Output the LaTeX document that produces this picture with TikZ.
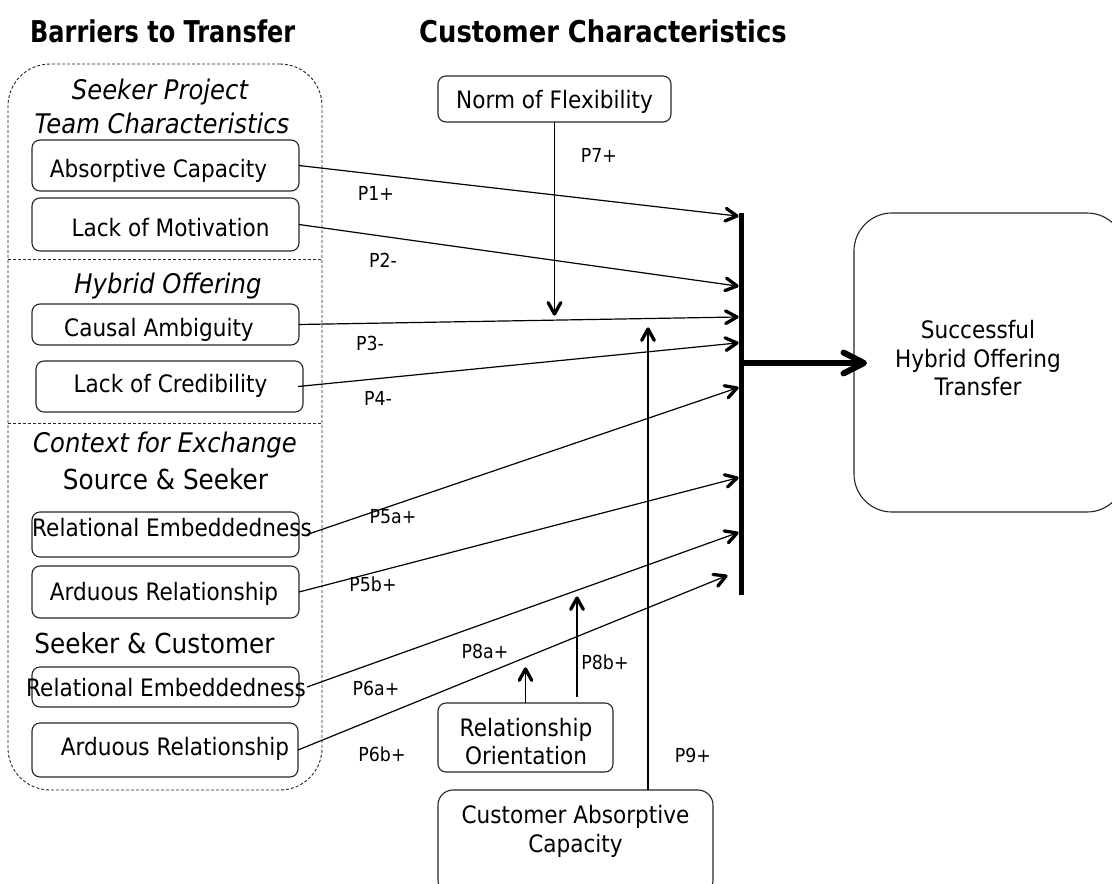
\documentclass[tikz,border=0pt]{standalone}
\usepackage{fontspec}
\setmainfont{DejaVu Sans}[FakeStretch=0.9]
\newfontfamily\headfont{DejaVu Sans}[FakeStretch=0.8]
\newfontfamily\headfontwide{DejaVu Sans}[FakeStretch=0.86]
\usetikzlibrary{calc}

\tikzset{
  frame/.style={draw=black!85, line width=1.1pt, rounded corners=8pt,
    inner sep=0pt, outer sep=0pt},
  dashframe/.style={draw=black!85, line width=0.9pt, dash pattern=on 3pt off 2pt},
  txt/.style={inner sep=0pt, anchor=base, font=\fontsize{24}{28}\selectfont},
  ttl/.style={inner sep=0pt, anchor=base, font=\fontsize{27}{32}\selectfont\itshape},
  sub/.style={inner sep=0pt, anchor=base, font=\fontsize{27.5}{32}\selectfont},
  lab/.style={inner sep=0pt, anchor=base, font=\fontsize{19.3}{23}\selectfont},
  head/.style={inner sep=0pt, anchor=base west,
    font=\headfont\bfseries\fontsize{30}{34}\selectfont},
  link/.style={line width=1.2pt},
  chev/.style={line width=3.3pt, line cap=round, line join=round},
  bigchev/.style={line width=6pt, line cap=round, line join=round},
}
% thin connector from #1 to #2 with a heavy open chevron at #2
\newcommand\connect[2]{%
  \draw[link] (#1) -- (#2);
  \draw[chev] ($(#2)!13pt!29:(#1)$) -- (#2) -- ($(#2)!13pt!-29:(#1)$);}

\begin{document}
\begin{tikzpicture}[x=1pt,y=-1pt]
\useasboundingbox (0,0) rectangle (1112,884);
\fill[white] (0,0) rectangle (1112,884);

% column headings
\node[head] (h1) at (30,42) {Barriers to Transfer};
\node[head, font=\headfontwide\bfseries\fontsize{30}{34}\selectfont] (h2) at (419,42) {Customer Characteristics};

% dashed frame of the barriers with its section dividers
\node[frame, dashframe, rounded corners=42pt, minimum width=314pt, minimum height=726pt] (outer) at (165,427) {};
\coordinate (d1) at (0,259);
\coordinate (d2) at (0,423);
\draw[dashframe] (outer.west |- d1) -- (outer.east |- d1);
\draw[dashframe] (outer.west |- d2) -- (outer.east |- d2);

% section titles
\node[ttl] (t1) at (160,99) {Seeker Project};
\node[ttl] (t2) at (162,133) {Team Characteristics};
\node[ttl] (t3) at (168,293) {Hybrid Offering};
\node[ttl] (t4) at (165,452) {Context for Exchange};
\node[sub] (s1) at (165.5,489) {Source \& Seeker};
\node[sub] (s2) at (154.5,653) {Seeker \& Customer};

% barrier boxes
\node[frame, minimum width=267pt, minimum height=51pt] (ac) at (165.5,165.5) {};
\node[frame, minimum width=267pt, minimum height=53pt] (lm) at (165.5,224.5) {};
\node[frame, minimum width=267pt, minimum height=41pt] (ca) at (165.5,324.5) {};
\node[frame, minimum width=267pt, minimum height=51pt] (lc) at (169.5,386.5) {};
\node[frame, minimum width=267pt, minimum height=45pt] (re1) at (165.5,534.5) {};
\node[frame, minimum width=267pt, minimum height=52pt] (ar1) at (165.5,592) {};
\node[frame, minimum width=267pt, minimum height=40pt] (re2) at (165.5,687) {};
\node[frame, minimum width=266pt, minimum height=54pt] (ar2) at (165,750) {};

\node[txt] (act) at (158.5,177) {Absorptive Capacity};
\node[txt] (lmt) at (170.5,236) {Lack of Motivation};
\node[txt] (cat) at (159,336.5) {Causal Ambiguity};
\node[txt] (lct) at (170.5,392) {Lack of Credibility};
\node[txt] (re1t) at (172,536) {Relational Embeddedness};
\node[txt] (ar1t) at (164,600) {Arduous Relationship};
\node[txt] (re2t) at (166,696) {Relational Embeddedness};
\node[txt] (ar2t) at (175,755) {Arduous Relationship};

% customer characteristics
\node[frame, minimum width=233pt, minimum height=46pt] (nf) at (554.5,99) {};
\node[txt] (nft) at (554.5,108) {Norm of Flexibility};
\node[frame, minimum width=175pt, minimum height=69pt] (ro) at (525.5,737.5) {};
\node[txt] (rot1) at (526,736) {Relationship};
\node[txt] (rot2) at (526,764) {Orientation};
\node[frame, rounded corners=15pt, minimum width=275pt, minimum height=105pt] (cac) at (575.5,842.5) {};
\node[txt] (cact1) at (575.5,823) {Customer Absorptive};
\node[txt] (cact2) at (575.5,852) {Capacity};

% outcome
\node[frame, rounded corners=38pt, minimum width=271pt, minimum height=299pt] (shb) at (989.5,362.5) {};
\node[txt] (shbt1) at (978,338) {Successful};
\node[txt] (shbt2) at (978,367) {Hybrid Offering};
\node[txt] (shbt3) at (978,395) {Transfer};

% collecting bar and the outcome arrow
\coordinate (bt) at (741,213);
\coordinate (bb) at (741,595);
\draw[line width=5pt] (bt) -- (bb);
\coordinate (b0) at (741,363);
\coordinate (bz) at ([xshift=10pt]shb.west |- b0);
\draw[line width=6pt] (b0) -- (bz);
\draw[bigchev] ($(bz)!23pt!27:(b0)$) -- (bz) -- ($(bz)!23pt!-27:(b0)$);

% starts and ends of the connectors
\coordinate (s4) at ([xshift=-5pt]lc.east);
\coordinate (s5) at ([xshift=8pt]re1.east);
\coordinate (s7) at ([xshift=8pt]re2.east);
\coordinate (s11) at ([xshift=51.5pt,yshift=6pt]ro.north);
\coordinate (s12) at ([xshift=72.5pt]cac.north);

\coordinate (e1) at (737,216);
\coordinate (e2) at (737,286);
\coordinate (e3) at (737,317);
\coordinate (e4) at (737,343);
\coordinate (e5) at (737,388);
\coordinate (e6) at (737,478);
\coordinate (e7) at (737,533);
\coordinate (e8) at (726,576);
\coordinate (m1) at (554.5,314);
\coordinate (m2) at (525.5,669);
\coordinate (m3) at (577,598);
\coordinate (m4) at (648,329);

\connect{ac.east}{e1}
\connect{lm.east}{e2}
\connect{ca.east}{e3}
\connect{s4}{e4}
\connect{s5}{e5}
\connect{ar1.east}{e6}
\connect{s7}{e7}
\connect{ar2.east}{e8}

% moderating arrows
\connect{nf.south}{m1}
\connect{ro.north}{m2}
\connect{s11}{m3}
\connect{s12}{m4}

% proposition labels
\node[lab] (p7) at (599,162) {P7+};
\node[lab] (p1) at (376,200) {P1+};
\node[lab] (p2) at (383,267) {P2-};
\node[lab] (p3) at (370,350) {P3-};
\node[lab] (p4) at (378,405) {P4-};
\node[lab] (p5a) at (393,523) {P5a+};
\node[lab] (p5b) at (373,591) {P5b+};
\node[lab] (p8a) at (485,658) {P8a+};
\node[lab] (p8b) at (605,669) {P8b+};
\node[lab] (p6a) at (376,695) {P6a+};
\node[lab] (p6b) at (382,761) {P6b+};
\node[lab] (p9) at (693,762) {P9+};
\end{tikzpicture}
\end{document}
